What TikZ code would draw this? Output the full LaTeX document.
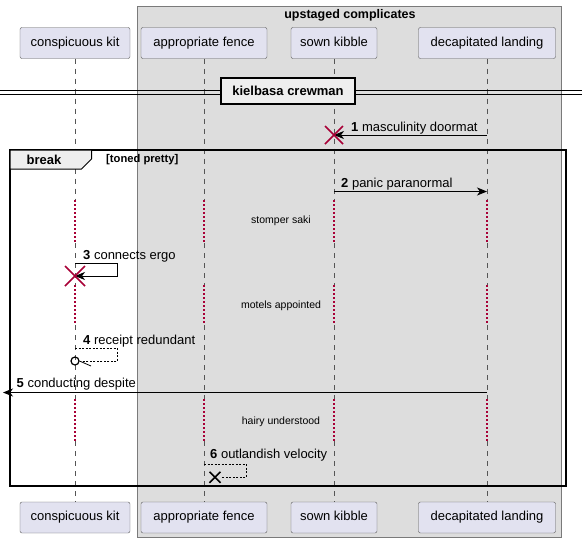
\documentclass[tikz,border=0pt]{standalone}
\usepackage{fontspec}
\setmainfont{Liberation Sans}
\usetikzlibrary{arrows.meta}
\definecolor{partfill}{HTML}{E2E2F0}
\definecolor{partdraw}{HTML}{5A5A5A}
\definecolor{grpfill}{HTML}{DDDDDD}
\definecolor{grpdraw}{HTML}{7A7A7A}
\definecolor{tabfill}{HTML}{EEEEEE}
\definecolor{crim}{HTML}{A80036}
\definecolor{lifegray}{HTML}{555555}
\tikzset{
  part/.style={draw=partdraw, fill=partfill, rounded corners=2pt, minimum height=31pt, inner sep=0pt, text height=9.5pt, text depth=2.8pt, font=\fontsize{13}{15}\selectfont},
  lifeline/.style={draw=lifegray, line width=0.6pt, dash pattern=on 5pt off 5pt},
  delayline/.style={draw=crim, line width=1.2pt, dash pattern=on 1.5pt off 2.5pt},
  msg/.style={draw=black, line width=0.8pt, -{Stealth[length=10pt,width=8pt,inset=3pt]}},
  retmsg/.style={draw=black, line width=0.6pt, dash pattern=on 2pt off 1.5pt},
  msglabel/.style={anchor=base west, inner sep=0pt, font=\fontsize{13}{15}\selectfont},
  delaytext/.style={inner sep=0pt, font=\fontsize{10.5}{12}\selectfont},
  killx/.style={draw=crim, line width=1.5pt},
}
\begin{document}
\begin{tikzpicture}[x=1pt,y=-1pt]
\useasboundingbox (0,0) rectangle (582,542);
% group box
\draw[draw=grpdraw, fill=grpfill, line width=0.8pt] (137,6) rectangle (561,537);
\node[inner sep=0pt, font=\bfseries\fontsize{12.5}{14}\selectfont] (grptitle) at (350,15) {upstaged complicates};
% participants
\node[part, minimum width=110pt] (kit) at (75,43) {conspicuous kit};
\node[part, minimum width=126pt] (fence) at (204,43) {appropriate fence};
\node[part, minimum width=86pt] (kibble) at (334,43) {sown kibble};
\node[part, minimum width=137pt] (land) at (487,43) {decapitated landing};
\node[part, minimum width=110pt] (kitB) at (75,517.5) {conspicuous kit};
\node[part, minimum width=126pt] (fenceB) at (204,517.5) {appropriate fence};
\node[part, minimum width=86pt] (kibbleB) at (334,517.5) {sown kibble};
\node[part, minimum width=137pt] (landB) at (487,517.5) {decapitated landing};
% delay coordinates
\coordinate (d1a) at (0,200);
\coordinate (d1b) at (0,243);
\coordinate (d2a) at (0,285);
\coordinate (d2b) at (0,325);
\coordinate (d3a) at (0,399);
\coordinate (d3b) at (0,441);
% lifelines
\foreach \p in {kit,fence,kibble,land}{
  \draw[lifeline] (\p.south) -- (\p.south |- d1a);
  \draw[delayline] (\p.south |- d1a) -- (\p.south |- d1b);
  \draw[lifeline] (\p.south |- d1b) -- (\p.south |- d2a);
  \draw[delayline] (\p.south |- d2a) -- (\p.south |- d2b);
  \draw[lifeline] (\p.south |- d2b) -- (\p.south |- d3a);
  \draw[delayline] (\p.south |- d3a) -- (\p.south |- d3b);
  \draw[lifeline] (\p.south |- d3b) -- (\p B.north);
}
% divider
\coordinate (divL) at (0,92.25);
\coordinate (divR) at (582,92.25);
\draw[black, line width=0.8pt] ([yshift=-1.75pt]divL) -- ([yshift=-1.75pt]divR);
\draw[black, line width=0.8pt] ([yshift=1.75pt]divL) -- ([yshift=1.75pt]divR);
\node[draw=black, fill=tabfill, line width=1.5pt, minimum width=134pt, minimum height=26pt, inner sep=0pt, font=\bfseries\fontsize{13}{15}\selectfont] (div) at (288,91) {kielbasa crewman};
% message 1
\coordinate (m1) at (0,135);
\draw[msg] (land |- m1) -- (kibble |- m1);
\node[msglabel] (l1) at (351,131) {\textbf{1} masculinity doormat};
\draw[killx] ([shift={(-9,-9)}]kibble |- m1) -- ([shift={(9,9)}]kibble |- m1);
\draw[killx] ([shift={(-9,9)}]kibble |- m1) -- ([shift={(9,-9)}]kibble |- m1);
% break frame
\draw[black, line width=1.5pt] (10,150) rectangle (566,486);
\draw[black, fill=tabfill, line width=1pt] (10,150) -- (91.5,150) -- (91.5,159) -- (81.5,169) -- (10,169) -- cycle;
\node[inner sep=0pt, font=\bfseries\fontsize{13}{15}\selectfont] (brk) at (44,160) {break};
\node[anchor=west, inner sep=0pt, font=\bfseries\fontsize{11.2}{13}\selectfont] (cond) at (106,159.5) {[toned pretty]};
% message 2
\coordinate (m2) at (0,191.5);
\draw[msg] (kibble |- m2) -- (land |- m2);
\node[msglabel] (l2) at (341,187) {\textbf{2} panic paranormal};
% delay 1
\node[delaytext] (t1) at (281,221) {stomper saki};
% message 3
\coordinate (m3a) at (0,263.3);
\coordinate (m3r) at (117.3,276);
\draw[msg] (kit |- m3a) -| (m3r) -- (kit |- m3r);
\node[msglabel] (l3) at (83,259) {\textbf{3} connects ergo};
\draw[killx] ([shift={(-10,-10)}]kit |- m3r) -- ([shift={(10,10)}]kit |- m3r);
\draw[killx] ([shift={(-10,10)}]kit |- m3r) -- ([shift={(10,-10)}]kit |- m3r);
% delay 2
\node[delaytext] (t2) at (281,306) {motels appointed};
% message 4
\coordinate (m4a) at (0,348.3);
\coordinate (m4r) at (117.3,361);
\coordinate (m4e) at (79.5,361);
\draw[retmsg] (kit |- m4a) -| (m4r) -- (m4e);
\draw[black, line width=0.8pt] (m4e) -- (91,366);
\draw[black, line width=1.2pt] (kit |- m4r) circle[radius=4pt];
\node[msglabel] (l4) at (83,344) {\textbf{4} receipt redundant};
% message 5
\coordinate (m5) at (0,392.5);
\coordinate (m5e) at (3,392.5);
\draw[msg] (land |- m5) -- (m5e);
\node[msglabel] (l5) at (16.5,387) {\textbf{5} conducting despite};
% delay 3
\node[delaytext] (t3) at (281,422) {hairy understood};
% message 6
\coordinate (m6a) at (0,464.3);
\coordinate (m6r) at (246,477.3);
\coordinate (m6e) at (221,477.3);
\coordinate (m6x) at (215,477.3);
\draw[retmsg] (fence |- m6a) -| (m6r) -- (m6e);
\draw[black, line width=1.5pt] ([shift={(-5.5,-5.5)}]m6x) -- ([shift={(5.5,5.5)}]m6x);
\draw[black, line width=1.5pt] ([shift={(-5.5,5.5)}]m6x) -- ([shift={(5.5,-5.5)}]m6x);
\node[msglabel] (l6) at (210,458) {\textbf{6} outlandish velocity};
\end{tikzpicture}
\end{document}
